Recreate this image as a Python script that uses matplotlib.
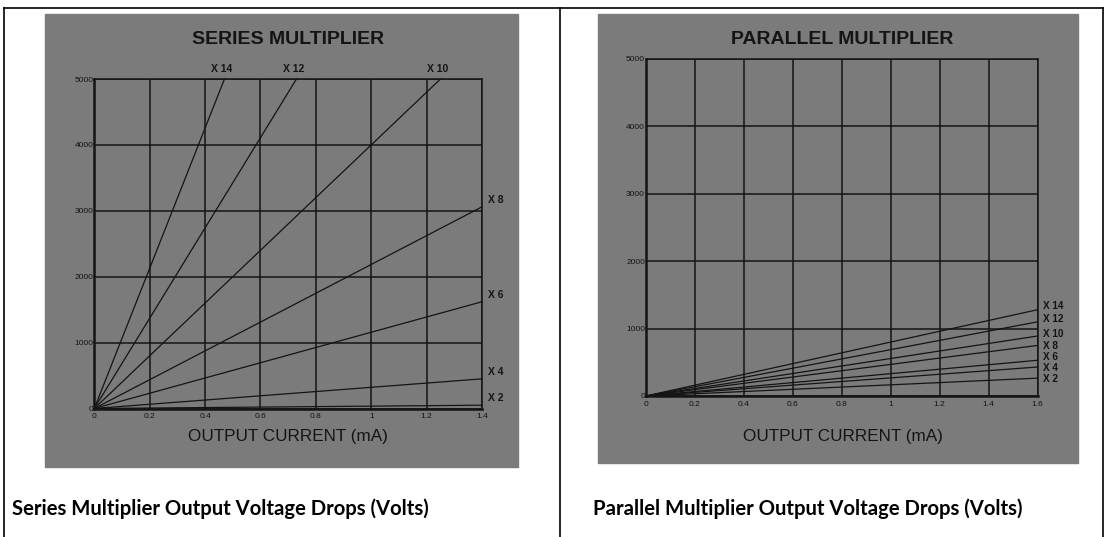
import matplotlib
matplotlib.use('Agg')
import matplotlib.pyplot as plt
from matplotlib.lines import Line2D
from matplotlib.patches import Rectangle

# multiplier stages shown on both charts
multipliers = ['X 2', 'X 4', 'X 6', 'X 8', 'X 10', 'X 12', 'X 14']

# series multiplier: each line runs from the origin to this end point
series_end_ma = [1.4, 1.4, 1.4, 1.4, 1.25, 0.73, 0.47]
series_end_v = [50, 450, 1620, 3060, 5000, 5000, 5000]
series_xticks = [0, 0.2, 0.4, 0.6, 0.8, 1.0, 1.2, 1.4]
series_xlabels = ['0', '0.2', '0.4', '0.6', '0.8', '1', '1.2', '1.4']

# parallel multiplier: all lines end at 1.6 mA
parallel_end_ma = [1.6, 1.6, 1.6, 1.6, 1.6, 1.6, 1.6]
parallel_end_v = [265, 430, 530, 750, 890, 1100, 1280]
parallel_xticks = [0, 0.2, 0.4, 0.6, 0.8, 1.0, 1.2, 1.4, 1.6]
parallel_xlabels = ['0', '0.2', '0.4', '0.6', '0.8', '1', '1.2', '1.4', '1.6']

volt_ticks = [0, 1000, 2000, 3000, 4000, 5000]
volt_labels = ['0', '1000', '2000', '3000', '4000', '5000']

# vertical nudge (points) so the stacked parallel labels don't collide
parallel_label_dy = [-0.9, -0.5, 2.2, -0.1, 1.4, 1.9, 2.7]

W, H = 1108, 537
PANEL = '#7b7b7b'
INK = '#141414'
plt.rcParams['font.family'] = ['Liberation Sans', 'DejaVu Sans']


def fx(px):
    return px / W


def fy(py):
    return 1 - py / H


fig = plt.figure(figsize=(W / 100, H / 100), dpi=100)
fig.patch.set_facecolor('white')

# table frame around the two cells
frame = dict(color='black', lw=1.2)
fig.add_artist(Line2D([fx(4), fx(1103)], [fy(8), fy(8)], **frame))
for xp in (4, 560, 1103):
    fig.add_artist(Line2D([fx(xp), fx(xp)], [fy(8), fy(537)], **frame))

# grey scanned panels
fig.add_artist(Rectangle((fx(45), fy(467)), fx(518) - fx(45), fy(14) - fy(467),
                         color=PANEL, zorder=0))
fig.add_artist(Rectangle((fx(598), fy(463)), fx(1078) - fx(598), fy(14) - fy(463),
                         color=PANEL, zorder=0))


def setup_axes(ax, xmax, xticks, xlabels):
    ax.set_facecolor(PANEL)
    ax.set_xlim(0, xmax)
    ax.set_ylim(0, 5000)
    ax.set_xticks(xticks)
    ax.set_xticklabels(xlabels)
    ax.set_yticks(volt_ticks)
    ax.set_yticklabels(volt_labels)
    ax.grid(True, color=INK, lw=1.1)
    ax.set_axisbelow(True)
    for s in ax.spines.values():
        s.set_color(INK)
        s.set_linewidth(1.1)
    ax.spines['left'].set_linewidth(1.8)
    ax.spines['bottom'].set_linewidth(1.8)
    ax.tick_params(length=0, labelsize=6, colors=INK, pad=3.5)
    ax.tick_params(axis='y', pad=0.5)


# series chart
ax1 = fig.add_axes([fx(94.3), fy(408.5), fx(482) - fx(94.3), fy(79) - fy(408.5)])
setup_axes(ax1, 1.4, series_xticks, series_xlabels)
for name, xe, ye in zip(multipliers, series_end_ma, series_end_v):
    ax1.plot([0, xe], [0, ye], color=INK, lw=0.9, clip_on=False)
    if ye >= 5000:
        ax1.annotate(name, (xe, ye), xytext=(-2, 7), textcoords='offset points',
                     ha='center', va='center', fontsize=7.5, fontweight='bold',
                     color=INK, annotation_clip=False)
    else:
        ax1.annotate(name, (xe, ye), xytext=(4, 5), textcoords='offset points',
                     ha='left', va='center', fontsize=7.5, fontweight='bold',
                     color=INK, annotation_clip=False)
fig.text(fx(288), fy(39), 'SERIES MULTIPLIER', ha='center', va='center',
         fontsize=14, fontweight='bold', color=INK)
fig.text(fx(288), fy(436.5), 'OUTPUT CURRENT (mA)', ha='center', va='center',
         fontsize=12.3, color=INK)

# parallel chart
ax2 = fig.add_axes([fx(645.7), fy(396), fx(1037.5) - fx(645.7), fy(59) - fy(396)])
setup_axes(ax2, 1.6, parallel_xticks, parallel_xlabels)
for name, xe, ye, dy in zip(multipliers, parallel_end_ma, parallel_end_v, parallel_label_dy):
    ax2.plot([0, xe], [0, ye], color=INK, lw=0.9, clip_on=False)
    ax2.annotate(name, (xe, ye), xytext=(4, dy), textcoords='offset points',
                 ha='left', va='center', fontsize=7.2, fontweight='bold',
                 color=INK, annotation_clip=False)
fig.text(fx(841.7), fy(40), 'PARALLEL MULTIPLIER', ha='center', va='center',
         fontsize=14, fontweight='bold', color=INK)
fig.text(fx(843), fy(436), 'OUTPUT CURRENT (mA)', ha='center', va='center',
         fontsize=12.3, color=INK)

# captions under each cell
fig.text(fx(11.5), fy(509), 'Series Multiplier Output Voltage Drops (Volts)',
         ha='left', va='center', fontsize=14.6, fontweight='bold',
         family=['Lato', 'DejaVu Sans'], color='black')
fig.text(fx(593), fy(509), 'Parallel Multiplier Output Voltage Drops (Volts)',
         ha='left', va='center', fontsize=14.6, fontweight='bold',
         family=['Lato', 'DejaVu Sans'], color='black')

fig.savefig('out.png', dpi=100)
